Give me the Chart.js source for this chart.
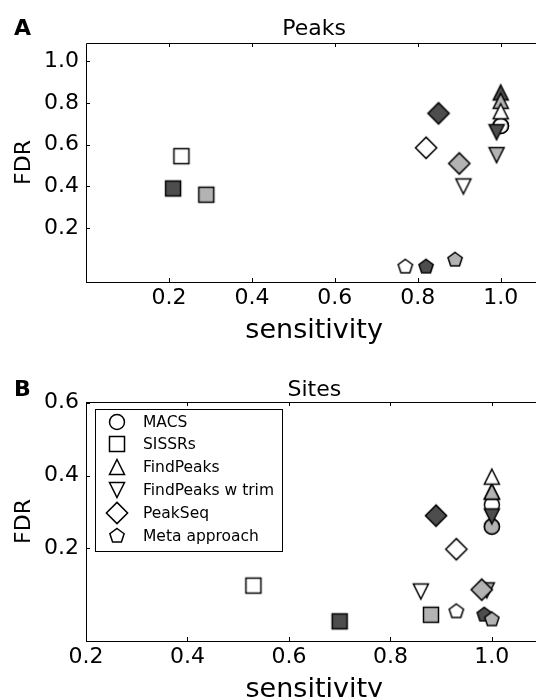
<!DOCTYPE html>
<html lang="en">
<head>
  <meta charset="UTF-8" />
  <meta name="viewport" content="width=device-width, initial-scale=1.0" />
  <title>Peaks and Sites: FDR vs sensitivity</title>
  <script src="https://cdn.jsdelivr.net/npm/chart.js"></script>
  <style>
    html, body {
      margin: 0;
      padding: 0;
      width: 545px;
      height: 697px;
      overflow: hidden;
      background: #fff;
    }
    #figure {
      position: relative;
      width: 545px;
      height: 697px;
      overflow: hidden;
    }
    canvas {
      position: absolute;
      left: 0;
    }
    #peaksChart { top: 0; }
    #sitesChart { top: 359px; }
  </style>
</head>
<body>
  <div id="figure">
    <canvas id="peaksChart" width="545" height="359"></canvas>
    <canvas id="sitesChart" width="545" height="338"></canvas>
  </div>

  <script>
    // methods, in plotting order
    const methods = ['MACS', 'SISSRs', 'FindPeaks', 'FindPeaks w trim', 'PeakSeq', 'Meta approach'];

    // Panel A - Peaks: one value per method for the dark / light / white runs
    const peaksSensDark  = [1.00, 0.21, 1.00, 0.99, 0.85, 0.82];
    const peaksSensLight = [1.00, 0.29, 1.00, 0.99, 0.90, 0.89];
    const peaksSensWhite = [1.00, 0.23, 1.00, 0.91, 0.82, 0.77];
    const peaksFdrDark   = [0.69, 0.39, 0.85, 0.66, 0.75, 0.015];
    const peaksFdrLight  = [0.69, 0.36, 0.81, 0.55, 0.51, 0.048];
    const peaksFdrWhite  = [0.69, 0.545, 0.76, 0.40, 0.585, 0.015];

    // Panel B - Sites
    const sitesSensDark  = [1.00, 0.70, 1.00, 1.00, 0.89, 0.985];
    const sitesSensLight = [1.00, 0.88, 1.00, 0.99, 0.98, 1.00];
    const sitesSensWhite = [1.00, 0.53, 1.00, 0.86, 0.93, 0.93];
    const sitesFdrDark   = [0.26, 0.00, 0.356, 0.288, 0.29, 0.018];
    const sitesFdrLight  = [0.26, 0.018, 0.356, 0.085, 0.087, 0.005];
    const sitesFdrWhite  = [0.32, 0.098, 0.397, 0.082, 0.198, 0.027];

    // tick labels
    const peaksXTicks = [0.2, 0.4, 0.6, 0.8, 1.0];
    const peaksYTicks = [0.2, 0.4, 0.6, 0.8, 1.0];
    const sitesXTicks = [0.2, 0.4, 0.6, 0.8, 1.0];
    const sitesYTicks = [0.2, 0.4, 0.6];

    const FONT = 'DejaVu Sans';
    Chart.defaults.font.family = FONT;
    Chart.defaults.color = '#000';

    const shadeColor = { dark: '#4d4d4d', light: '#b3b3b3', white: '#ffffff' };
    const shapeOf = ['circle', 'square', 'triangleUp', 'triangleDown', 'diamond', 'pentagon'];

    // small canvases used as point styles (Chart.js has no pentagon / down triangle)
    const markerCache = {};
    function marker(shape, shade) {
      const key = shape + shade;
      if (markerCache[key]) return markerCache[key];
      const size = 28, r = 7.5;
      const c = document.createElement('canvas');
      c.width = c.height = size;
      const g = c.getContext('2d');
      g.translate(size / 2, size / 2);
      g.beginPath();
      if (shape === 'circle') {
        g.arc(0, 0, r, 0, Math.PI * 2);
      } else if (shape === 'square') {
        g.rect(-r, -r, 2 * r, 2 * r);
      } else if (shape === 'triangleUp') {
        g.moveTo(0, -r); g.lineTo(r, r); g.lineTo(-r, r); g.closePath();
      } else if (shape === 'triangleDown') {
        g.moveTo(0, r); g.lineTo(r, -r); g.lineTo(-r, -r); g.closePath();
      } else if (shape === 'diamond') {
        const d = r * Math.SQRT2;
        g.moveTo(0, -d); g.lineTo(d, 0); g.lineTo(0, d); g.lineTo(-d, 0); g.closePath();
      } else if (shape === 'pentagon') {
        for (let k = 0; k < 5; k++) {
          const a = -Math.PI / 2 + k * 2 * Math.PI / 5;
          const px = r * Math.cos(a), py = r * Math.sin(a);
          if (k === 0) g.moveTo(px, py); else g.lineTo(px, py);
        }
        g.closePath();
      }
      g.fillStyle = shadeColor[shade];
      g.fill();
      g.lineWidth = 1.5;
      g.strokeStyle = '#000';
      g.lineJoin = 'miter';
      g.stroke();
      markerCache[key] = c;
      return c;
    }

    function buildDatasets(sensD, sensL, sensW, fdrD, fdrL, fdrW) {
      return methods.map((m, i) => ({
        label: m,
        data: [
          { x: sensD[i], y: fdrD[i] },
          { x: sensL[i], y: fdrL[i] },
          { x: sensW[i], y: fdrW[i] }
        ],
        pointStyle: [marker(shapeOf[i], 'dark'), marker(shapeOf[i], 'light'), marker(shapeOf[i], 'white')],
        pointRadius: 8,
        pointHoverRadius: 8,
        showLine: false,
        order: methods.length - i   // first method ends up underneath
      }));
    }

    // frame, inward ticks, panel letter, titles and optional legend
    const panelPlugin = {
      id: 'panel',
      beforeDatasetsDraw(chart, args, opts) {
        const { ctx, chartArea: a } = chart;
        const xs = chart.scales.x, ys = chart.scales.y;
        ctx.save();
        ctx.strokeStyle = '#000';
        ctx.lineWidth = 1;
        ctx.beginPath();
        ctx.moveTo(a.left + 0.5, a.bottom + 0.5);
        ctx.lineTo(a.left + 0.5, a.top + 0.5);
        ctx.lineTo(a.right, a.top + 0.5);
        ctx.moveTo(a.left, a.bottom + 0.5);
        ctx.lineTo(a.right, a.bottom + 0.5);
        xs.ticks.forEach(t => {
          const px = Math.round(xs.getPixelForValue(t.value)) + 0.5;
          ctx.moveTo(px, a.bottom); ctx.lineTo(px, a.bottom - 4);
          ctx.moveTo(px, a.top); ctx.lineTo(px, a.top + 4);
        });
        ys.ticks.forEach(t => {
          const py = Math.round(ys.getPixelForValue(t.value)) + 0.5;
          ctx.moveTo(a.left, py); ctx.lineTo(a.left + 4, py);
        });
        ctx.stroke();
        ctx.restore();
      },
      afterDraw(chart, args, opts) {
        const { ctx, chartArea: a } = chart;
        const xs = chart.scales.x;
        // the axes run on to x = 1.1, a little past the window edge
        const cx = xs.getPixelForValue((xs.min + opts.axisEnd) / 2);
        ctx.save();
        ctx.fillStyle = '#000';
        ctx.textBaseline = 'alphabetic';
        ctx.font = 'bold 22px "' + FONT + '"';
        ctx.textAlign = 'left';
        ctx.fillText(opts.letter, 14, opts.titleY);
        ctx.font = '22px "' + FONT + '"';
        ctx.textAlign = 'center';
        ctx.fillText(opts.title, cx, opts.titleY);
        ctx.font = '27px "' + FONT + '"';
        ctx.textBaseline = 'middle';
        ctx.fillText('sensitivity', cx, a.bottom + 48.5);

        if (opts.legend) {
          const bx = a.left + 9, by = a.top + 7, bw = 187, bh = 142;
          ctx.fillStyle = '#fff';
          ctx.fillRect(bx, by, bw, bh);
          ctx.strokeStyle = '#000';
          ctx.lineWidth = 1;
          ctx.strokeRect(bx + 0.5, by + 0.5, bw, bh);
          ctx.font = '15.5px "' + FONT + '"';
          ctx.textAlign = 'left';
          ctx.textBaseline = 'middle';
          ctx.fillStyle = '#000';
          methods.forEach((m, i) => {
            const cy = by + 12.5 + i * 22.8;
            const img = marker(shapeOf[i], 'white');
            ctx.drawImage(img, Math.round(bx + 22 - img.width / 2), Math.round(cy - img.height / 2));
            ctx.fillText(m, bx + 48, cy + 1);
          });
        }
        ctx.restore();
      }
    };

    function makeChart(id, datasets, xMin, xMax, yMin, yMax, xTicks, yTicks, axisHeight, panelOpts) {
      return new Chart(document.getElementById(id), {
        type: 'scatter',
        data: { datasets: datasets },
        plugins: [panelPlugin],
        options: {
          responsive: false,
          animation: false,
          events: [],
          layout: { padding: { top: 43, left: 0, right: 0, bottom: 0 } },
          plugins: {
            legend: { display: false },
            tooltip: { enabled: false },
            title: { display: false },
            panel: panelOpts
          },
          scales: {
            x: {
              type: 'linear',
              min: xMin,
              max: xMax,
              afterBuildTicks: s => { s.ticks = xTicks.map(v => ({ value: v })); },
              afterFit: s => { s.height = axisHeight; },
              grid: { display: false, drawTicks: false },
              border: { display: false },
              ticks: {
                autoSkip: false,
                maxRotation: 0,
                padding: 3,
                font: { size: 22 },
                color: '#000',
                callback: v => Number(v).toFixed(1)
              },
              title: { display: false }
            },
            y: {
              type: 'linear',
              min: yMin,
              max: yMax,
              afterBuildTicks: s => { s.ticks = yTicks.map(v => ({ value: v })); },
              afterFit: s => { s.width = 86; },
              grid: { display: false, drawTicks: false },
              border: { display: false },
              ticks: {
                autoSkip: false,
                padding: 7,
                font: { size: 22 },
                color: '#000',
                callback: v => Number(v).toFixed(1)
              },
              title: {
                display: true,
                text: 'FDR',
                color: '#000',
                font: { size: 22 },
                padding: { top: 11, bottom: 0 }
              }
            }
          }
        }
      });
    }

    makeChart('peaksChart',
      buildDatasets(peaksSensDark, peaksSensLight, peaksSensWhite, peaksFdrDark, peaksFdrLight, peaksFdrWhite),
      0, 1.085, -0.058, 1.087, peaksXTicks, peaksYTicks, 77,
      { letter: 'A', title: 'Peaks', titleY: 34.5, axisEnd: 1.1, legend: false });

    makeChart('sitesChart',
      buildDatasets(sitesSensDark, sitesSensLight, sitesSensWhite, sitesFdrDark, sitesFdrLight, sitesFdrWhite),
      0.2, 1.087, -0.054, 0.602, sitesXTicks, sitesYTicks, 56,
      { letter: 'B', title: 'Sites', titleY: 37, axisEnd: 1.1, legend: true });
  </script>
</body>
</html>
